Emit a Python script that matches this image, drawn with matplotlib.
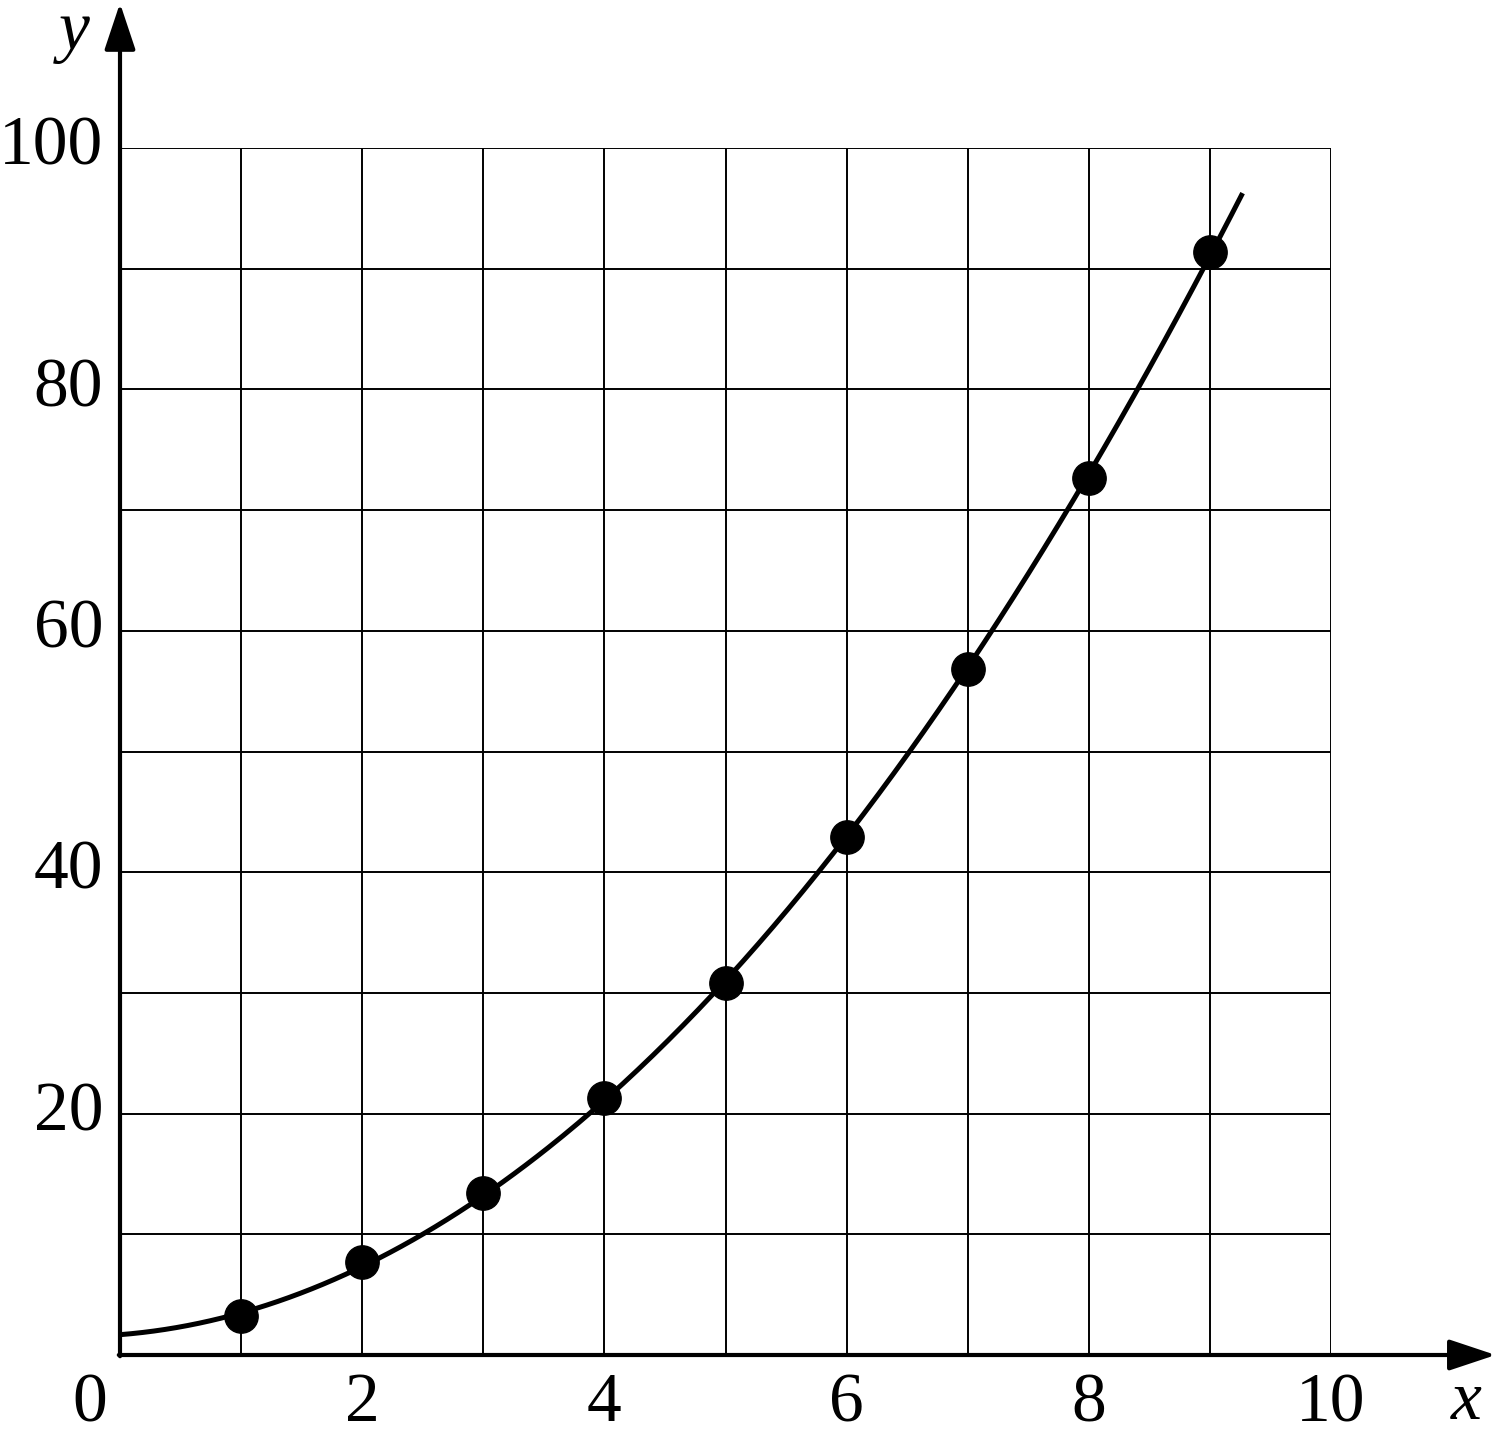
import numpy as np
import matplotlib.pyplot as plt

# data
x_pts = [1, 2, 3, 4, 5, 6, 7, 8, 9]
y_pts = [3.2, 7.7, 13.4, 21.3, 30.8, 42.9, 56.8, 72.7, 91.4]
curve_start = 1.6     # curve value at x = 0
curve_end_x = 9.27    # where the drawn curve stops

x_ticks = [0, 2, 4, 6, 8, 10]
y_ticks = [20, 40, 60, 80, 100]

plt.rcParams['font.family'] = ['Liberation Serif', 'DejaVu Serif']

W, H = 1498, 1435
fig = plt.figure(figsize=(W / 100, H / 100), dpi=100)
# axes spans exactly the grid (x 0..10, y 0..100)
ax = fig.add_axes([120 / W, 1 - 1355 / H, (1331 - 120) / W, (1355 - 148) / H])
ax.set_xlim(0, 10)
ax.set_ylim(0, 100)
ax.axis('off')

# grid
for gx in range(1, 11):
    ax.plot([gx, gx], [0, 100], color='k', lw=1.4, solid_capstyle='butt')
for gy in range(10, 101, 10):
    ax.plot([0, 10], [gy, gy], color='k', lw=1.4, solid_capstyle='butt')

# axes with arrows
arrow = dict(arrowstyle='-|>,head_length=0.72,head_width=0.24', lw=3,
             color='k', mutation_scale=40, shrinkA=0, shrinkB=0)
ax.annotate('', xy=(11.36, 0), xytext=(-0.01, 0), arrowprops=arrow,
            annotation_clip=False)
ax.annotate('', xy=(0, 112.0), xytext=(0, -0.1), arrowprops=arrow,
            annotation_clip=False)

# fitted curve and data points
coef = np.polyfit([0] + x_pts, [curve_start] + y_pts, 2)
xc = np.linspace(0, curve_end_x, 300)
ax.plot(xc, np.polyval(coef, xc), color='k', lw=3.6, clip_on=False,
        solid_capstyle='butt')
ax.plot(x_pts, y_pts, 'o', color='k', ms=24, clip_on=False)

# tick labels
for t in x_ticks:
    xpos = -0.25 if t == 0 else t
    ax.text(xpos, -4.1, str(t), ha='center', va='center', fontsize=50)
for t in y_ticks:
    ax.text(-0.14, t, str(t), ha='right', va='center', fontsize=50)

ax.text(11.12, -3.9, 'x', ha='center', va='center', fontsize=50, style='italic')
ax.text(-0.38, 109.6, 'y', ha='center', va='center', fontsize=50, style='italic')

fig.savefig('out.png', dpi=100)
